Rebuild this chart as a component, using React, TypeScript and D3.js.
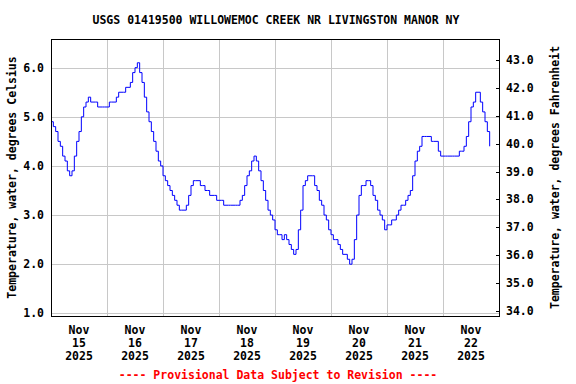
import * as d3 from 'd3'

// hourly water temperature readings (deg C), one array per day
const nov15 = [4.9, 4.8, 4.7, 4.5, 4.4, 4.2, 4.1, 3.9, 3.8, 3.9, 4.2, 4.5, 4.7, 5.0, 5.2, 5.3, 5.4, 5.3, 5.3, 5.3, 5.2, 5.2, 5.2, 5.2]
const nov16 = [5.2, 5.3, 5.3, 5.3, 5.4, 5.5, 5.5, 5.5, 5.6, 5.6, 5.7, 5.9, 6.0, 6.1, 5.9, 5.7, 5.4, 5.1, 4.9, 4.7, 4.5, 4.3, 4.1, 4.0]
const nov17 = [3.8, 3.7, 3.6, 3.5, 3.4, 3.3, 3.2, 3.1, 3.1, 3.1, 3.2, 3.4, 3.6, 3.7, 3.7, 3.7, 3.6, 3.6, 3.5, 3.5, 3.4, 3.4, 3.4, 3.3]
const nov18 = [3.3, 3.3, 3.2, 3.2, 3.2, 3.2, 3.2, 3.2, 3.2, 3.3, 3.4, 3.6, 3.8, 3.9, 4.1, 4.2, 4.1, 3.9, 3.7, 3.5, 3.3, 3.1, 3.0, 2.9]
const nov19 = [2.7, 2.6, 2.6, 2.5, 2.6, 2.5, 2.4, 2.3, 2.2, 2.3, 2.7, 3.1, 3.6, 3.7, 3.8, 3.8, 3.8, 3.6, 3.5, 3.3, 3.2, 3.0, 2.9, 2.7]
const nov20 = [2.6, 2.5, 2.5, 2.4, 2.3, 2.2, 2.2, 2.1, 2.0, 2.1, 2.5, 3.0, 3.4, 3.6, 3.6, 3.7, 3.7, 3.6, 3.4, 3.3, 3.1, 3.0, 2.9, 2.7]
const nov21 = [2.8, 2.8, 2.9, 2.9, 3.0, 3.1, 3.2, 3.2, 3.3, 3.4, 3.5, 3.8, 4.1, 4.3, 4.4, 4.6, 4.6, 4.6, 4.6, 4.5, 4.5, 4.5, 4.3, 4.2]
const nov22 = [4.2, 4.2, 4.2, 4.2, 4.2, 4.2, 4.2, 4.3, 4.3, 4.4, 4.6, 4.9, 5.2, 5.3, 5.5, 5.5, 5.3, 5.1, 4.9, 4.7, 4.4]

const days = [nov15, nov16, nov17, nov18, nov19, nov20, nov21, nov22]
const dayLabels = ['15', '16', '17', '18', '19', '20', '21', '22']
const celsiusTicks = [1, 2, 3, 4, 5, 6]
const fahrenheitTicks = [34, 35, 36, 37, 38, 39, 40, 41, 42, 43]

const title = 'USGS 01419500 WILLOWEMOC CREEK NR LIVINGSTON MANOR NY'
const HOUR = 3600 * 1000
const start = Date.UTC(2025, 10, 15)

const width = 576
const height = 384
const margin = { top: 39, right: 77, bottom: 68, left: 51 }
const font = '"DejaVu Sans Mono", monospace'

export default function App() {
  const x0 = margin.left
  const x1 = width - margin.right
  const y0 = margin.top
  const y1 = height - margin.bottom

  const points = days.flatMap((vals, d) =>
    vals.map((v, h) => ({ t: new Date(start + (d * 24 + h) * HOUR), v }))
  )

  const x = d3.scaleUtc()
    .domain([new Date(start), new Date(start + 8 * 24 * HOUR)])
    .range([x0, x1])

  const y = d3.scaleLinear().domain([0.945, 6.584]).range([y1, y0])
  const yF = d3.scaleLinear().domain([33.82, 43.75]).range([y1, y0])

  const line = d3.line<{ t: Date; v: number }>()
    .x(d => x(d.t))
    .y(d => y(d.v))
    .curve(d3.curveStepAfter)

  const dayStarts = d3.range(1, 8).map(i => new Date(start + i * 24 * HOUR))
  const dayMids = dayLabels.map((lab, i) => ({ lab, cx: x(new Date(start + (i * 24 + 12) * HOUR)) }))
  const snap = (v: number) => Math.round(v) + 0.5

  return (
    <svg
      width={width}
      height={height}
      style={{ position: 'absolute', left: 0, top: 0, background: '#fff' }}
      fontFamily={font}
      fontWeight="bold"
      fontSize={11.5}
    >
      <text x={276} y={24} textAnchor="middle" fill="#000">{title}</text>

      {/* grid */}
      <g stroke="#c8c8c8" strokeWidth={1} shapeRendering="crispEdges">
        {dayStarts.map((d, i) => (
          <line key={'v' + i} x1={snap(x(d))} x2={snap(x(d))} y1={y0} y2={y1} />
        ))}
        {celsiusTicks.map(t => (
          <line key={'h' + t} x1={x0} x2={x1} y1={snap(y(t))} y2={snap(y(t))} />
        ))}
      </g>

      <path d={line(points) || ''} fill="none" stroke="#0000ff" strokeWidth={1} />

      {/* frame */}
      <rect x={x0 + 0.5} y={y0 + 0.5} width={x1 - x0} height={y1 - y0} fill="none" stroke="#000" strokeWidth={1} shapeRendering="crispEdges" />

      {/* left axis */}
      {celsiusTicks.map(t => (
        <text key={'lc' + t} x={44} y={y(t) + 4} textAnchor="end" fill="#000">{t.toFixed(1)}</text>
      ))}
      <text transform={`translate(16,${(y0 + y1) / 2}) rotate(-90)`} textAnchor="middle" fill="#000">
        Temperature, water, degrees Celsius
      </text>

      {/* right axis */}
      <g stroke="#000" shapeRendering="crispEdges">
        {fahrenheitTicks.map(t => (
          <line key={'rt' + t} x1={x1 - 3} x2={x1} y1={snap(yF(t))} y2={snap(yF(t))} />
        ))}
      </g>
      {fahrenheitTicks.map(t => (
        <text key={'rf' + t} x={506} y={yF(t) + 4} textAnchor="start" fill="#000">{t.toFixed(1)}</text>
      ))}
      <text transform={`translate(559,${(y0 + y1) / 2}) rotate(-90)`} textAnchor="middle" fill="#000">
        Temperature, water, degrees Fahrenheit
      </text>

      {/* bottom axis */}
      {dayMids.map(d => (
        <g key={'b' + d.lab} fill="#000" textAnchor="middle">
          <text x={d.cx} y={334}>Nov</text>
          <text x={d.cx} y={347}>{d.lab}</text>
          <text x={d.cx} y={360}>2025</text>
        </g>
      ))}

      <text x={278} y={379} textAnchor="middle" fill="#ff0000">
        ---- Provisional Data Subject to Revision ----
      </text>
    </svg>
  )
}
